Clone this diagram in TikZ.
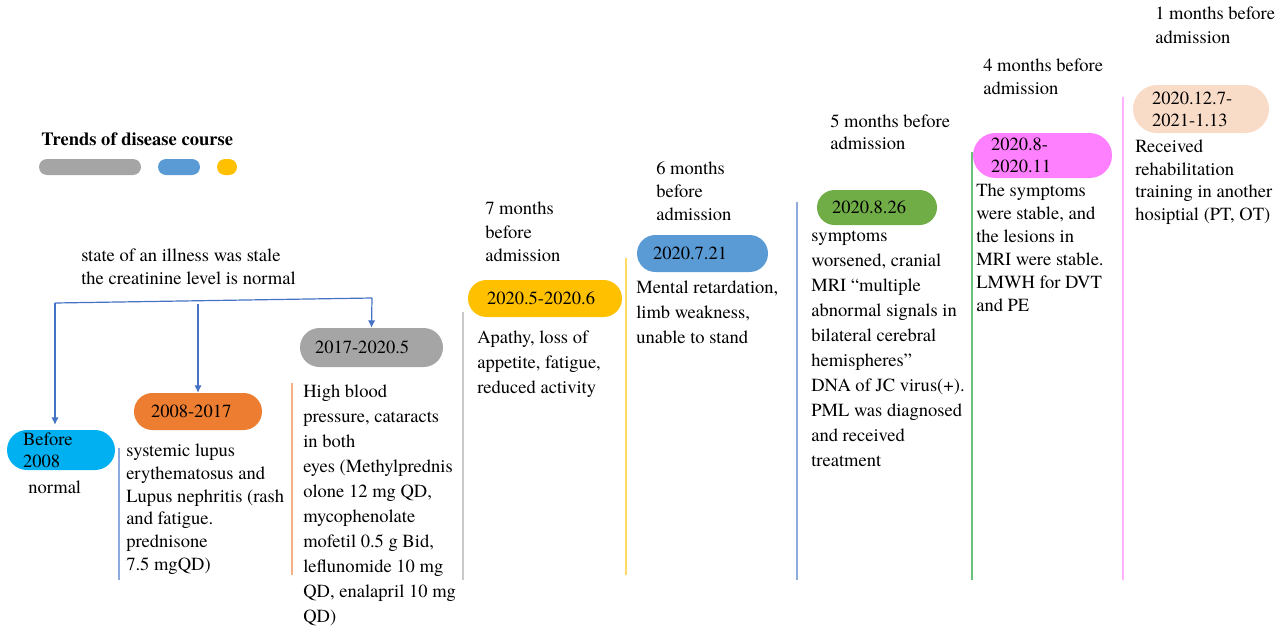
\documentclass[tikz,border=0pt]{standalone}
\usepackage{fontspec}
\IfFontExistsTF{texgyretermes-regular.otf}{%
\setmainfont{texgyretermes}[Extension=.otf, UprightFont=*-regular, BoldFont=*-bold, ItalicFont=*-italic, BoldItalicFont=*-bolditalic]}{%
\setmainfont{Liberation Serif}}
\usetikzlibrary{arrows.meta}
\definecolor{cCyan}{HTML}{00B0F0}
\definecolor{cOrange}{HTML}{ED7D31}
\definecolor{cGray}{HTML}{A5A5A5}
\definecolor{cYellow}{HTML}{FFC000}
\definecolor{cBlue}{HTML}{5B9BD5}
\definecolor{cGreen}{HTML}{70AD47}
\definecolor{cPink}{HTML}{FF80FF}
\definecolor{cPeach}{HTML}{F9DCC8}
\definecolor{cConn}{HTML}{4472C4}
\definecolor{lBlueA}{HTML}{8EA9DB}
\definecolor{lOrange}{HTML}{F4B183}
\definecolor{lGray}{HTML}{C9C9C9}
\definecolor{lYellow}{HTML}{FFD966}
\definecolor{lBlueB}{HTML}{8FAADC}
\definecolor{lGreen}{HTML}{6CC07A}
\definecolor{lPink}{HTML}{FFB0FF}
\begin{document}
\begin{tikzpicture}[x=0.75pt,y=-0.75pt,
  txt/.style={anchor=north west, inner sep=0pt, align=left,
    font=\fontsize{13.9pt}{17.25pt}\selectfont, execute at begin node=\strut},
  txtb/.style={txt, font=\fontsize{13.9pt}{18.75pt}\selectfont},
  pill/.style={draw=none, inner ysep=0pt, align=left,
    font=\fontsize{13.9pt}{16.5pt}\selectfont},
  lpill/.style={draw=none, inner sep=0pt, minimum height=12pt, rounded corners=6pt},
  conn/.style={draw=cConn, line width=0.9pt},
  arr/.style={conn, -{Latex[length=5.5pt,width=5.5pt]}},
  col/.style={line width=0.8pt}
]
\useasboundingbox (0,0) rectangle (1288,632);

% legend
\node[txt, font=\fontsize{13.9pt}{17.25pt}\selectfont\bfseries] (title) at (41,129) {Trends of disease course};
\node[lpill, fill=cGray, minimum width=76.5pt] (lg1) at (90,167) {};
\node[lpill, fill=cBlue, minimum width=31.5pt] (lg2) at (179,167) {};
\node[lpill, fill=cYellow, minimum width=15pt] (lg3) at (227,167) {};

% stable text
\node[txt] (stable) at (81,249) {state of an illness was stale\\the creatinine level is normal};

% pills
\node[pill, fill=cCyan, text width=57pt, inner xsep=12pt, minimum height=30pt, rounded corners=15pt] (before) at (61,450) {Before\\2008};
\node[pill, fill=cOrange, text width=70.5pt, inner xsep=12.75pt, minimum height=27.75pt, rounded corners=13.8pt] (p0817) at (198,411.5) {2008-2017};
\node[pill, fill=cGray, text width=84.75pt, inner xsep=11.25pt, minimum height=29.25pt, rounded corners=14.6pt] (p1720) at (371.5,347.5) {2017-2020.5};
\node[pill, fill=cYellow, text width=87pt, inner xsep=14.25pt, minimum height=27.75pt, rounded corners=13.8pt] (p2056) at (545,298.5) {2020.5-2020.6};
\node[pill, fill=cBlue, text width=74.25pt, inner xsep=12pt, minimum height=27.75pt, rounded corners=13.8pt] (p0721) at (702.5,253.5) {2020.7.21};
\node[pill, fill=cGreen, text width=67.5pt, inner xsep=11.25pt, minimum height=26.25pt, rounded corners=13.1pt] (p0826) at (877,207.5) {2020.8.26};
\node[pill, fill=cPink, text width=77.25pt, inner xsep=13.5pt, minimum height=33.75pt, rounded corners=16.8pt] (p0811) at (1042.5,155.5) {2020.8-\\2020.11};
\node[pill, fill=cPeach, text width=73.5pt, inner xsep=14.25pt, minimum height=36pt, rounded corners=18pt] (p1213) at (1201,109) {2020.12.7-\\2021-1.13};

% connectors
\coordinate (bl) at (55,303);
\coordinate (bm) at (198,303.6);
\coordinate (br) at (372,298);
\draw[conn] (bl) -- (br);
\draw[arr] (bl) -- ([yshift=3.75pt]bl |- before.north);
\draw[arr] (bm) -- (p0817.north);
\draw[arr] (br) -- (p1720.north);

% column lines
\draw[col, lBlueA] (119,448) -- (119,580);
\draw[col, lOrange] (292,383) -- (292,575);
\draw[col, lGray] (463,312) -- (463,580);
\draw[col, lYellow] (626,258) -- (626,575);
\draw[col, lBlueB] (797,202) -- (797,580);
\draw[col, lGreen] (972,152) -- (972,580);
\draw[col, lPink] (1123,97) -- (1123,580);

% texts
\node[txt] (normal) at (28,477) {normal};
\node[txt, font=\fontsize{13.9pt}{17pt}\selectfont] (sle) at (126,444) {systemic lupus\\erythematosus and\\Lupus nephritis (rash\\and fatigue.\\prednisone\\7.5 mgQD)};
\node[txtb] (hbp) at (303,384.5) {High blood\\pressure, cataracts\\in both\\eyes (Methylprednis\\olone 12 mg QD,\\mycophenolate\\mofetil 0.5 g Bid,\\leflunomide 10 mg\\QD, enalapril 10 mg\\QD)};
\node[txt, font=\fontsize{13.9pt}{17.6pt}\selectfont] (m7) at (485,202) {7 months\\before\\admission};
\node[txtb] (apathy) at (477,330.5) {Apathy, loss of\\appetite, fatigue,\\reduced activity};
\node[txt] (m6) at (656,162) {6 months\\before\\admission};
\node[txtb] (mental) at (636,280.5) {Mental retardation,\\limb weakness,\\unable to stand};
\node[txt, font=\fontsize{13.9pt}{16.5pt}\selectfont] (m5) at (830,114) {5 months before\\admission};
\node[txtb] (worse) at (811,230.5) {symptoms\\worsened, cranial\\MRI “multiple\\abnormal signals in\\bilateral cerebral\\hemispheres”\\DNA of JC virus(+).\\PML was diagnosed\\and received\\treatment};
\node[txt] (m4) at (983,59) {4 months before\\admission};
\node[txt] (stablesym) at (976,184) {The symptoms\\were stable, and\\the lesions in\\MRI were stable.\\LMWH for DVT\\and PE};
\node[txt, font=\fontsize{13.9pt}{18pt}\selectfont] (m1) at (1155,7) {1 months before\\admission};
\node[txt, font=\fontsize{13.9pt}{16.9pt}\selectfont] (rehab) at (1135,140) {Received\\rehabilitation\\training in another\\hosiptial (PT, OT)};
\end{tikzpicture}
\end{document}
